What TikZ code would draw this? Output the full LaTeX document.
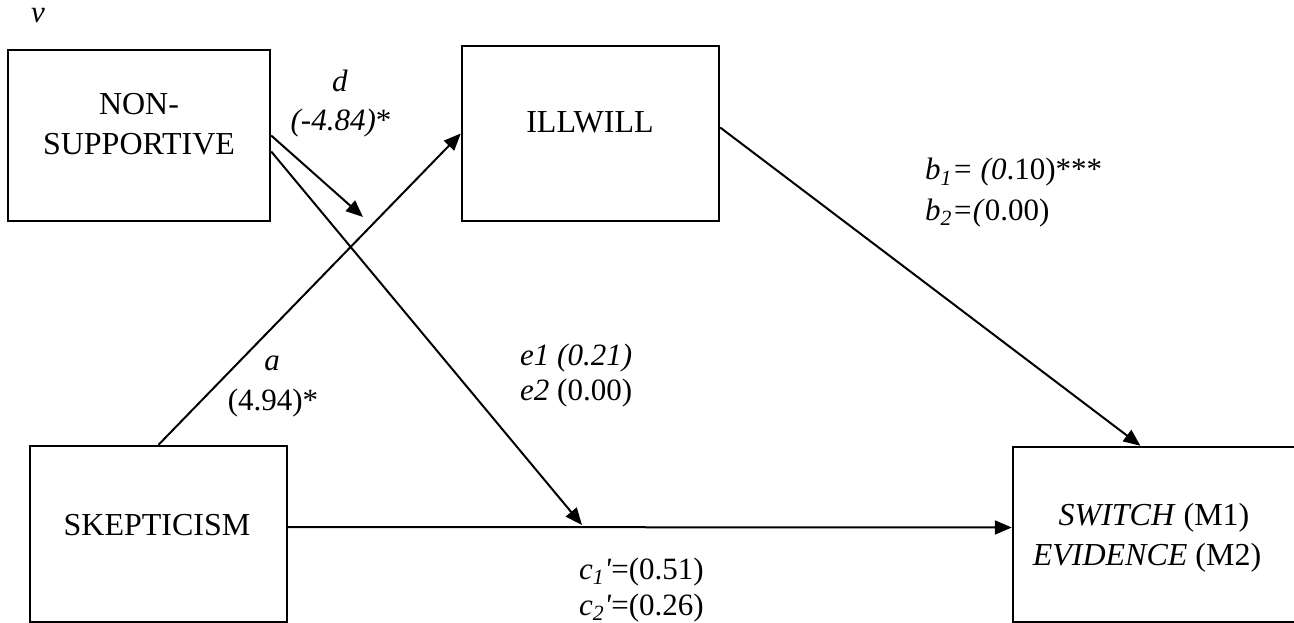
\documentclass[tikz,border=0pt]{standalone}
\usepackage{fontspec}
\setmainfont{Liberation Serif}
\usetikzlibrary{arrows.meta}
\newcommand{\prm}{\textquotesingle}
\begin{document}
\begin{tikzpicture}[x=1pt,y=-1pt,
  box/.style={draw, line width=2.4pt, rectangle, inner sep=0pt},
  txt/.style={inner sep=0pt, font=\fontsize{31}{38}\selectfont},
  boxcap/.style={inner sep=0pt, font=\fontsize{32}{40}\selectfont},
  link/.style={line width=2pt, -{Triangle[length=17pt,width=14pt]}},
]
\useasboundingbox (0,0) rectangle (1294,623);

% variable boxes
\node[box, minimum width=262pt, minimum height=171pt] (ns) at (139,135.5) {};
\node[box, minimum width=257pt, minimum height=175pt] (iw) at (590.5,133.5) {};
\node[box, minimum width=257pt, minimum height=176pt] (sk) at (158.5,534) {};
\node[box, minimum width=283pt, minimum height=175pt] (sw) at (1154.5,534.5) {};

% box captions
\node[boxcap, anchor=base] (nsA) at (139,115) {NON-};
\node[boxcap, anchor=base] (nsB) at (139,155) {SUPPORTIVE};
\node[boxcap, anchor=base] (iwT) at (590,133) {ILLWILL};
\node[boxcap, anchor=base] (skT) at (157,535) {SKEPTICISM};
\node[boxcap, anchor=base] (swA) at (1154,525) {\textit{SWITCH} (M1)};
\node[boxcap, anchor=base] (swB) at (1147,565) {\textit{EVIDENCE} (M2)};

% free ends of the moderating arrows
\coordinate (dtip) at (363,217);
\coordinate (etip) at (582,525);

% paths
\draw[link] (sk.north) -- (iw.west);
\draw[link] (ns.east) -- (dtip);
\draw[link] ([yshift=-16pt]ns.east) -- (etip);
\draw[link] ([yshift=6pt]iw.east) -- ([xshift=-14pt]sw.north);
\draw[link] ([yshift=7pt]sk.east) -- ([yshift=7pt]sw.west);

% coefficient labels
\node[txt, anchor=base] (lv) at (38,23) {\textit{v}};
\node[txt, anchor=base] (ld1) at (340,92) {\textit{d}};
\node[txt, anchor=base] (ld2) at (341,131) {\textit{(-4.84)}*};
\node[txt, anchor=base] (la1) at (272,370) {\textit{a}};
\node[txt, anchor=base] (la2) at (273,410) {(4.94)*};
\node[txt, anchor=base west] (le1) at (520,365) {\textit{e1 (0.21)}};
\node[txt, anchor=base west] (le2) at (520,400) {\textit{e2} (0.00)};
\node[txt, anchor=base west] (lb1) at (925,180) {\textit{b\textsubscript{1}= (0}.10)***};
\node[txt, anchor=base west] (lb2) at (925,220) {\textit{b\textsubscript{2}=(}0.00)};
\node[txt, anchor=base west] (lc1) at (579,579) {\textit{c\textsubscript{1}\prm}=(0.51)};
\node[txt, anchor=base west] (lc2) at (579,615) {\textit{c\textsubscript{2}\prm}=(0.26)};
\end{tikzpicture}
\end{document}
